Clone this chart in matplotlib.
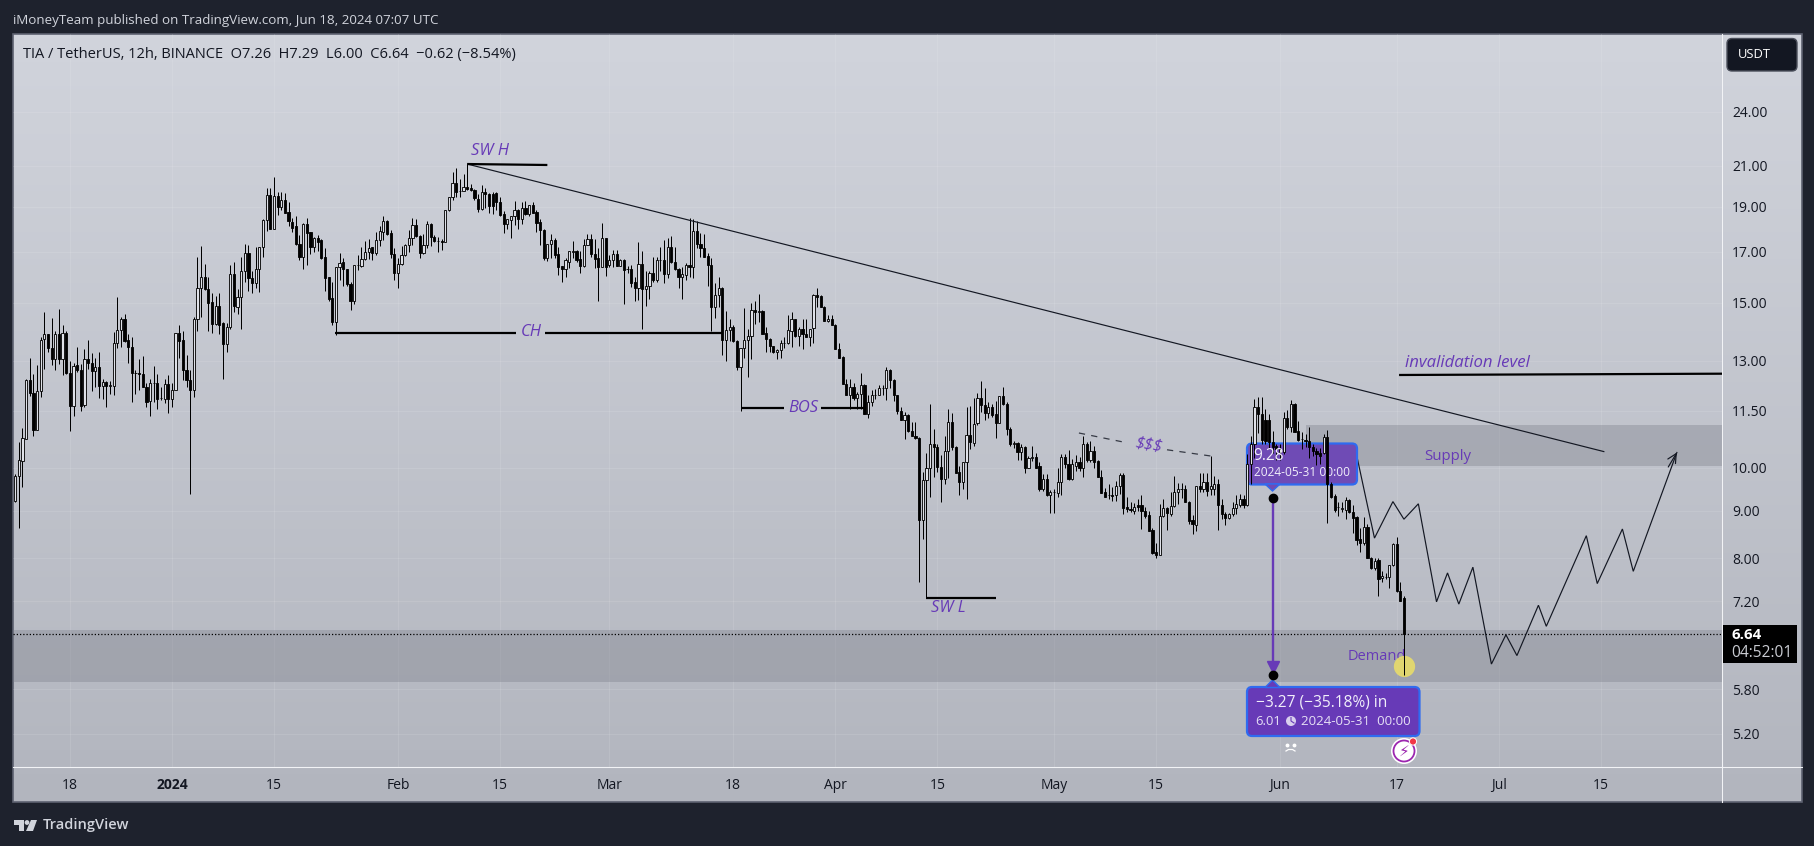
import numpy as np
import matplotlib
matplotlib.use("Agg")
import matplotlib.pyplot as plt
import matplotlib.dates as mdates
from matplotlib.colors import LinearSegmentedColormap
from matplotlib.patches import FancyBboxPatch, Polygon, Rectangle, Circle
from matplotlib.ticker import NullLocator
from matplotlib.transforms import Affine2D

# ---------- data (12h candles) ----------
opens = [
 9.21,9.79,10.17,10.74,12.4,12.03,10.98,12.07,13.72,13.9,
 13.42,13.05,13.9,13.07,13.93,12.63,11.65,12.88,12.73,11.68,
 13.07,12.93,12.68,12.82,12.23,12.35,12.23,12.23,13.58,14.03,
 14.4,13.7,13.45,12.62,12.63,12.58,12.2,11.77,12.33,12.32,
 11.87,11.85,12.27,11.83,12.1,13.93,13.7,12.73,12.42,12.1,
 14.4,15.55,16.0,15.5,15.03,14.25,14.9,14.27,13.55,14.15,
 16.1,14.85,15.2,16.22,16.95,15.93,15.75,16.3,17.2,18.4,
 19.55,18.0,19.5,19.0,19.3,18.75,18.3,18.1,17.35,16.8,
 18.2,17.85,17.2,17.6,17.5,16.8,15.97,15.17,14.3,16.4,
 16.6,16.3,15.72,15.05,16.45,16.42,16.7,17.0,17.2,16.95,
 17.5,17.85,18.35,17.8,16.9,16.15,16.5,16.85,17.3,17.6,
 18.18,17.67,16.95,17.3,18.2,17.65,17.45,17.45,17.42,18.85,
 19.45,20.15,19.75,19.75,19.95,19.9,19.8,19.35,18.87,19.7,
 19.6,19.6,19.65,19.2,18.65,18.2,18.4,18.55,18.85,18.45,
 18.95,18.65,19.1,18.77,18.3,17.95,16.75,17.33,17.5,16.9,
 16.43,16.3,16.6,17.0,17.03,16.7,16.43,17.3,17.55,16.93,
 16.75,16.4,17.58,16.45,16.65,16.93,16.43,16.68,16.3,16.3,
 15.78,15.55,16.52,15.5,15.65,16.15,15.87,16.65,16.65,16.1,
 17.2,16.6,16.3,15.97,16.05,16.47,16.37,17.9,17.33,17.17,
 16.83,16.47,14.85,15.3,15.55,13.68,14.02,14.12,13.65,12.82,
 13.43,13.7,13.82,14.75,14.67,14.7,13.92,13.73,13.48,13.28,
 13.35,13.6,13.6,14.0,14.4,13.82,14.05,13.88,13.8,14.1,
 15.3,15.25,14.85,14.35,14.42,14.22,13.4,13.13,12.27,11.97,
 12.2,11.87,12.0,12.25,11.42,11.75,11.95,11.95,12.15,12.15,
 12.7,12.42,11.95,11.5,11.25,11.37,10.95,10.82,10.77,8.79,
 9.71,10.0,10.6,10.52,10.02,9.73,10.42,11.2,10.53,9.9,
 9.66,10.15,10.85,10.63,11.15,11.88,11.68,11.45,11.6,11.42,
 11.15,11.93,11.7,11.0,10.6,10.62,10.4,10.52,10.0,10.25,
 10.27,10.03,9.5,9.73,9.35,9.42,9.4,9.65,10.27,10.1,
 9.72,10.05,10.15,10.0,10.6,10.2,10.43,10.17,9.78,9.42,
 9.35,9.35,9.35,9.57,9.83,9.08,9.03,9.0,9.13,9.13,
 9.0,8.9,8.57,8.13,8.07,8.87,9.05,8.92,9.1,9.43,
 9.48,9.5,9.2,8.8,8.68,9.55,9.5,9.65,9.5,9.5,
 9.6,9.13,8.93,8.83,8.93,9.05,9.13,9.27,9.12,10.1,
 10.6,11.6,11.42,11.25,11.25,10.65,10.55,10.4,10.4,11.3,
 11.05,11.7,10.95,10.72,10.7,10.67,10.53,10.43,10.38,10.38,
 10.78,9.6,9.33,9.07,9.04,9.02,9.23,8.97,8.85,8.4,
 8.3,8.65,8.0,7.82,7.97,7.62,7.65,7.65,7.87,8.28,7.38,7.26]
highs = [
 9.85,10.66,11.03,12.45,13.1,12.6,12.88,13.8,14.68,13.9,
 14.45,14.0,14.78,14.2,14.0,13.0,12.95,13.47,12.9,13.4,
 13.7,13.25,13.1,13.28,12.45,12.38,12.38,13.97,15.2,14.5,
 14.6,13.9,13.8,12.72,13.05,13.15,12.3,12.45,12.85,12.6,
 12.2,12.45,12.55,12.3,13.93,14.2,14.0,13.2,12.73,14.47,
 16.77,17.25,16.5,16.0,15.37,15.25,15.37,14.32,14.27,16.45,
 16.6,15.5,16.8,17.35,17.3,16.2,17.2,17.22,18.45,19.9,
 19.9,20.45,19.7,19.7,19.64,19.2,18.5,18.55,17.7,18.25,
 18.5,17.85,17.65,17.7,17.55,17.15,16.0,15.8,16.4,16.95,
 16.75,16.3,15.8,16.48,16.85,17.2,17.45,17.55,17.2,17.85,
 18.1,18.55,18.4,17.92,17.15,16.75,17.25,17.35,17.95,18.5,
 18.42,17.7,17.75,18.35,18.25,17.7,17.63,17.55,18.85,19.45,
 20.68,20.9,20.35,20.57,21.1,20.1,19.85,19.6,20.05,19.9,
 19.63,19.7,19.7,19.45,18.8,18.45,18.57,19.25,18.9,19.2,
 19.27,19.1,19.2,18.83,18.42,17.97,17.35,17.75,17.6,17.2,
 16.43,16.75,17.03,17.45,17.1,17.03,17.55,17.75,17.75,17.55,
 17.15,18.25,17.6,16.85,17.07,17.07,16.72,16.72,16.42,16.47,
 15.98,17.4,17.03,16.2,16.22,16.8,16.8,17.22,17.5,17.57,
 17.67,17.2,16.35,16.4,16.55,18.5,18.45,18.35,17.83,17.75,
 16.95,16.75,15.75,15.98,15.58,14.7,14.4,14.22,13.7,13.43,
 14.82,14.07,14.98,15.07,15.33,14.72,14.12,13.77,13.5,13.4,
 13.7,13.8,14.55,14.67,14.4,14.13,14.42,14.42,14.08,15.33,
 15.55,15.3,14.87,14.55,14.55,14.23,13.6,13.17,12.45,12.45,
 12.3,12.05,12.63,12.27,11.95,12.1,12.12,12.25,12.25,12.82,
 12.76,12.45,11.97,11.6,11.47,11.4,11.2,11.2,10.78,9.9,
 10.38,11.7,11.0,10.6,10.32,10.8,11.55,11.43,10.55,10.05,
 10.15,11.6,11.65,11.88,12.03,12.38,12.15,11.75,11.7,11.77,
 11.93,12.2,11.75,11.05,10.68,10.64,10.6,10.55,10.3,10.55,
 10.37,10.15,9.85,9.85,9.47,9.5,10.0,10.33,10.33,10.45,
 10.22,10.32,10.27,10.82,10.65,10.68,10.55,10.2,9.95,9.52,
 9.6,9.53,9.68,9.87,9.87,9.3,9.2,9.17,9.27,9.35,
 9.07,8.98,8.62,8.3,9.15,9.27,9.07,9.43,9.8,9.63,
 9.63,9.58,9.22,8.9,9.57,9.88,9.88,9.88,10.28,9.8,
 9.72,9.27,8.97,8.95,9.2,9.35,9.38,9.35,10.35,10.8,
 11.85,11.9,11.9,11.55,11.42,10.95,10.6,10.6,11.48,11.53,
 11.8,11.72,11.22,10.93,10.87,11.05,10.6,10.5,10.5,10.87,
 10.98,9.65,9.37,9.2,9.18,9.3,9.27,9.13,8.87,8.62,
 8.85,8.7,8.03,8.0,8.0,7.75,7.72,7.88,8.3,8.43,7.55,7.29]
lows = [
 9.2,8.62,9.53,10.72,11.92,10.8,10.98,11.9,12.75,13.3,
 12.87,12.7,12.9,12.55,12.6,10.95,11.35,12.65,11.5,11.6,
 12.75,12.07,12.2,11.87,11.85,11.6,12.0,11.95,13.43,13.45,
 13.62,12.95,11.75,12.0,12.1,12.2,11.6,11.35,11.75,11.55,
 11.82,11.72,11.45,11.62,12.1,13.1,12.42,12.2,9.38,11.9,
 14.0,14.5,15.47,14.0,13.92,14.2,13.88,12.45,13.3,14.05,
 14.67,14.6,14.05,15.8,15.45,15.35,15.55,15.4,16.8,17.9,
 18.0,18.0,18.6,18.83,18.7,18.1,17.85,17.3,16.65,16.3,
 16.45,16.93,17.0,17.05,16.7,15.45,15.07,14.2,13.85,15.87,
 15.65,15.65,14.75,14.95,16.25,16.4,16.68,16.72,16.65,16.85,
 17.25,17.5,17.7,16.75,15.85,15.55,16.45,16.83,17.0,17.28,
 17.65,16.75,16.9,17.15,17.25,17.4,17.0,17.1,17.42,18.82,
 19.3,19.45,19.45,19.75,19.8,19.77,19.3,18.75,18.85,18.95,
 18.7,18.68,18.85,18.55,17.8,18.0,17.6,18.15,18.0,18.2,
 18.63,18.55,18.7,17.87,17.3,16.65,16.62,16.75,16.75,16.05,
 15.8,15.98,16.33,16.75,16.6,16.13,16.4,17.27,16.8,16.33,
 15.08,16.38,16.03,16.4,16.4,16.42,16.42,14.97,16.15,15.58,
 15.08,15.1,14.07,14.9,15.15,15.8,15.78,16.2,15.73,15.95,
 16.55,16.25,15.55,15.15,15.87,16.0,15.95,17.17,16.8,16.78,
 15.65,14.0,14.45,14.85,13.18,13.0,13.65,13.63,12.73,11.5,
 13.1,12.5,13.07,14.25,14.3,13.9,13.3,13.3,13.25,13.05,
 13.1,13.43,13.57,13.47,13.8,13.48,13.4,13.8,13.5,13.6,
 14.85,14.83,14.33,14.3,14.2,13.4,13.1,12.27,11.95,11.55,
 11.82,11.55,11.55,11.42,11.3,11.65,11.85,11.95,11.97,11.8,
 12.15,11.77,11.42,11.25,10.73,10.92,10.8,10.72,7.55,8.4,
 7.26,9.3,9.78,9.9,9.2,9.6,9.75,10.45,9.88,9.34,
 9.5,9.25,10.47,10.55,11.1,11.47,11.25,11.3,11.33,10.77,
 11.15,11.68,10.83,10.55,10.5,10.2,10.2,9.87,10.0,10.17,
 9.98,9.45,9.45,9.33,8.95,8.95,9.3,9.35,10.0,9.7,
 9.7,9.92,9.92,9.77,10.13,10.15,10.0,9.77,9.4,9.3,
 9.25,9.22,9.22,9.37,8.93,8.97,8.97,8.93,9.0,8.6,
 8.83,8.55,8.09,8.0,8.07,8.85,8.58,8.87,9.08,9.15,
 9.28,9.18,8.7,8.5,8.55,9.43,9.43,9.33,9.35,9.35,
 8.58,8.82,8.68,8.82,8.88,8.93,9.07,9.05,9.1,9.6,
 10.25,10.9,10.6,10.6,10.5,10.38,10.2,10.2,10.33,11.0,
 10.93,10.92,10.67,10.47,10.52,10.25,10.3,10.07,10.1,10.35,
 8.72,9.28,8.97,8.88,8.96,8.82,8.95,8.52,8.27,8.13,
 8.27,8.0,7.79,7.77,7.29,7.55,7.6,7.43,7.85,7.37,7.2,6.0]
closes = [
 9.79,10.2,10.76,12.4,12.03,10.98,12.07,13.7,13.9,13.42,
 13.05,13.9,13.07,13.93,12.63,11.65,12.85,12.73,11.65,13.07,
 12.93,12.67,12.8,12.23,12.35,12.23,12.25,13.58,14.03,14.4,
 13.65,13.45,12.62,12.63,12.6,12.2,11.75,12.33,12.33,11.85,
 11.87,12.27,11.83,12.1,13.93,13.65,12.72,12.4,12.1,14.4,
 15.55,16.0,15.5,15.0,14.25,14.87,14.2,13.57,14.15,16.1,
 14.87,15.2,16.22,16.95,15.93,15.75,16.3,17.2,18.4,19.55,
 18.0,19.5,19.0,19.3,18.7,18.35,18.05,17.35,16.8,18.2,
 17.83,17.2,17.6,17.4,16.75,15.95,15.15,14.3,16.4,16.55,
 16.3,15.7,15.05,16.45,16.47,16.72,17.0,17.18,16.95,17.5,
 17.88,18.35,17.78,16.9,16.15,16.5,16.85,17.3,17.6,18.18,
 17.67,16.95,17.3,18.2,17.63,17.45,17.47,17.43,18.85,19.45,
 20.15,19.7,19.75,19.95,19.85,19.8,19.4,18.87,19.7,19.6,
 19.05,19.05,19.2,18.6,18.2,18.42,18.55,18.85,18.42,18.93,
 18.65,19.1,18.72,18.25,17.95,16.75,17.35,17.5,16.85,16.4,
 16.3,16.65,17.02,17.03,16.65,16.43,17.3,17.55,16.9,16.7,
 16.4,17.6,16.4,16.67,16.93,16.43,16.68,16.27,16.3,15.75,
 15.55,16.52,15.5,15.65,16.15,15.87,16.65,16.65,16.1,17.2,
 16.6,16.3,15.97,16.1,16.47,16.37,17.9,17.33,17.17,16.8,
 16.47,14.85,15.3,15.55,13.68,14.02,14.12,13.65,12.82,13.43,
 13.7,13.82,14.75,14.65,14.7,13.9,13.73,13.48,13.28,13.35,
 13.6,13.6,14.02,14.4,13.82,14.05,13.88,13.8,14.07,15.3,
 15.2,14.85,14.35,14.42,14.22,13.4,13.1,12.27,11.97,12.2,
 11.87,12.0,12.25,11.42,11.75,11.95,11.97,12.15,12.17,12.7,
 12.42,11.95,11.5,11.25,11.37,10.95,10.82,10.77,8.79,9.71,
 10.0,10.6,10.52,10.02,9.73,10.42,11.2,10.53,9.88,9.66,
 10.15,10.85,10.65,11.13,11.88,11.68,11.45,11.6,11.37,11.15,
 11.93,11.7,11.0,10.6,10.62,10.4,10.52,10.0,10.25,10.27,
 10.0,9.5,9.73,9.35,9.42,9.42,9.65,10.27,10.1,9.72,
 10.1,10.15,10.0,10.6,10.2,10.43,10.15,9.78,9.4,9.3,
 9.35,9.33,9.57,9.83,9.05,9.03,9.02,9.08,9.07,9.0,
 8.88,8.55,8.1,8.07,8.87,9.05,8.95,9.1,9.42,9.5,
 9.48,9.2,8.78,8.7,9.55,9.5,9.65,9.45,9.55,9.6,
 9.13,8.93,8.83,8.93,9.05,9.15,9.27,9.13,10.1,10.6,
 11.6,11.42,10.7,10.67,10.65,10.52,10.47,10.48,11.3,11.05,
 11.7,10.93,10.7,10.73,10.69,10.52,10.43,10.35,10.3,10.78,
 9.6,9.3,9.02,9.07,9.05,9.23,8.97,8.83,8.37,8.3,
 8.65,8.0,7.82,7.95,7.6,7.66,7.65,7.87,8.28,7.38,7.21,6.64]

last_bar = "2024-06-18"
price_ticks = [24, 21, 19, 17, 15, 13, 11.5, 10, 9, 8, 7.2, 5.8, 5.2]
date_ticks = ["2023-12-18","2024-01-01","2024-01-15","2024-02-01","2024-02-15","2024-03-01",
              "2024-03-18","2024-04-01","2024-04-15","2024-05-01","2024-05-15","2024-06-01",
              "2024-06-17","2024-07-01","2024-07-15"]
date_labels = ["18","2024","15","Feb","15","Mar","18","Apr","15","May","15","Jun","17","Jul","15"]

# drawings on the chart: dates and prices
trend_dates = ["2024-02-10 12:00","2024-07-15 12:00"];  trend_prices = [21.1, 10.4]
swh_dates = ["2024-02-10 12:00","2024-02-21 12:00"];    swh_prices = [21.1, 21.05]
ch_dates = ["2024-01-23 10:00","2024-02-17 04:00","2024-02-21 04:00","2024-03-16 10:00"]; ch_price = 13.93
bos_dates = ["2024-03-19 00:00","2024-03-24 22:00","2024-03-30 00:00","2024-04-05 00:00"]; bos_price = 11.58
swl_dates = ["2024-04-13 10:00","2024-04-23 00:00"];    swl_price = 7.26
liq_dates = ["2024-05-04 10:00","2024-05-10 19:00","2024-05-16 12:00","2024-05-22 22:00"]
liq_prices = [10.89, 10.64, 10.45, 10.28]
inval_dates = ["2024-06-17 08:00","2024-07-31 16:00"];  inval_prices = [12.56, 12.6]
supply_start = "2024-06-04 14:00"; supply_range = [10.05, 11.11]
demand_range = [5.90, 6.71]
last_close = 6.64
range_date = "2024-05-31"; range_from = 9.28; range_to = 6.01
mark_date = "2024-06-18"; mark_price = 6.14

path_days = [10.55,12.96,15.49,17.0,18.98,21.47,22.98,24.53,26.46,29.0,30.99,32.5,35.45,36.53,42.02,43.52,46.97,48.46,54.44]
path_prices = [10.28,8.41,9.20,8.81,9.15,7.19,7.72,7.15,7.83,6.17,6.63,6.30,7.13,6.77,8.46,7.52,8.60,7.75,10.38]

# ---------- page geometry ----------
W, H = 1815, 846
AX_L, AX_R, AX_T, AX_B = 13, 1722.5, 34, 767
PANEL_R, PANEL_B = 1802, 802
DARK = "#1e222d"; INK = "#131722"; PURPLE = "#673ab7"

plt.rcParams["font.family"] = ["Open Sans", "DejaVu Sans"]
fig = plt.figure(figsize=(W/100, H/100), dpi=100, facecolor=DARK)
px = Affine2D().scale(1, -1).translate(0, H)   # page pixels, y down

def num(s):
    return mdates.date2num(np.datetime64(s))

# background gradient
bg = fig.add_axes([0, 0, 1, 1], zorder=-1)
bg.set_xlim(0, W); bg.set_ylim(H, 0); bg.axis("off")
cmap = LinearSegmentedColormap.from_list("tv", ["#d1d4dc", "#b2b5be"])
bg.imshow(np.linspace(0, 1, 256)[:, None], extent=(13, PANEL_R, PANEL_B, 34), cmap=cmap, aspect="auto", zorder=0)
bg.add_patch(Rectangle((13, 34), PANEL_R-13, PANEL_B-34, fill=False, ec="#5d6170", lw=1.2, zorder=1))
bg.set_xlim(0, W); bg.set_ylim(H, 0)

# main chart
ax = fig.add_axes([AX_L/W, 1-AX_B/H, (AX_R-AX_L)/W, (AX_B-AX_T)/H], zorder=1)
ax.patch.set_visible(False)
ax.set_yscale("log")
ax.set_ylim(4.79, 29.05)
day0 = num("2024-06-01")
ax.set_xlim(day0-173.8, day0+60.7)

ax.yaxis.tick_right()
ax.set_yticks(price_ticks, [f"{p:.2f}" for p in price_ticks])
ax.yaxis.set_minor_locator(NullLocator())
ax.set_xticks([num(d) for d in date_ticks], date_labels)
ax.tick_params(axis="both", length=0, labelsize=10, colors=INK)
ax.tick_params(axis="y", pad=6.8)
ax.tick_params(axis="x", pad=8)
ax.get_xticklabels()[1].set_fontweight("bold")
ax.grid(True, color="white", alpha=0.10, lw=0.8, zorder=0)
ax.set_axisbelow(True)
for side in ("top", "left"):
    ax.spines[side].set_visible(False)
for side in ("right", "bottom"):
    ax.spines[side].set_color("#f2f3f6"); ax.spines[side].set_linewidth(0.75)
bg.plot([AX_R, AX_R], [AX_T, PANEL_B], color="#f2f3f6", lw=0.75, zorder=2)
bg.plot([AX_L, PANEL_R], [AX_B, AX_B], color="#f2f3f6", lw=0.75, zorder=2)

# zones
ax.axhspan(demand_range[0], demand_range[1], color="#787b86", alpha=0.35, lw=0, zorder=1)
ax.fill_between([num(supply_start), ax.get_xlim()[1]], supply_range[0], supply_range[1],
                color="#787b86", alpha=0.35, lw=0, zorder=1)
ax.axhline(last_close, color="black", lw=0.9, ls=(0, (1, 1.6)), zorder=2)

# projected path
ax.plot([day0+d for d in path_days], path_prices, color="#131722", lw=0.85, zorder=2, solid_joinstyle="miter")
ax.annotate("", xy=(day0+path_days[-1], path_prices[-1]), xytext=(day0+path_days[-2]+4.8, path_prices[-1]*0.965),
            arrowprops=dict(arrowstyle="->", color="#131722", lw=0.85, mutation_scale=16, shrinkA=0, shrinkB=0), zorder=2)

# first range label sits under the candles
def box(x0, y0, x1, y1, fc, z):
    ax.add_patch(FancyBboxPatch((x0+4, y0+4), x1-x0-8, y1-y0-8, boxstyle="round,pad=4,rounding_size=5",
                                fc=fc, ec="#2f6bf0", lw=1.6, transform=px, clip_on=False, zorder=z))

box(1247, 443.5, 1357, 484.5, "#6f4bb5", 3)
ax.add_patch(Polygon([(1265, 484), (1280, 484), (1272.5, 491)], closed=True, fc="#6f4bb5", ec="#2f6bf0", lw=1.0,
                     transform=px, clip_on=False, zorder=3))
ax.text(1253.5, 456, "9.28", transform=px, color="#f1effa", fontsize=11.2, va="center", ha="left", zorder=6.5)
ax.text(1253.5, 472, "2024-05-31 00:00", transform=px, color="#f1effa", fontsize=8.6, va="center", ha="left", zorder=3.5)

# yellow marker and Demand label under the last wick
ax.text(1376.5, 656, "Demand", transform=px, color=PURPLE, fontsize=10.5, va="center", ha="center", zorder=3)
ax.scatter([num(mark_date)], [mark_price], s=235, color="#e8dc6a", alpha=0.9, lw=0, zorder=4)

# candles
o, h, l, c = map(np.array, (opens, highs, lows, closes))
x = num(last_bar) - (len(o)-1-np.arange(len(o)))*0.5
up = c >= o
ax.vlines(x, l, h, color="black", lw=0.72, zorder=5)
ax.bar(x[up], np.abs(c-o)[up], bottom=np.minimum(o, c)[up], width=0.3, color="#dfe1e8", edgecolor="black", lw=0.62, zorder=6)
ax.bar(x[~up], np.abs(c-o)[~up], bottom=np.minimum(o, c)[~up], width=0.3, color="black", edgecolor="black", lw=0.62, zorder=6)

# analyst lines
def ln(dates, prices, **kw):
    ax.plot([num(d) for d in dates], prices, zorder=7, solid_capstyle="butt", **kw)

ln(trend_dates, trend_prices, color="#131722", lw=0.85)
ln(swh_dates, swh_prices, color="black", lw=1.6)
ln(ch_dates[:2], [ch_price]*2, color="black", lw=1.6)
ln(ch_dates[2:], [ch_price]*2, color="black", lw=1.6)
ln(bos_dates[:2], [bos_price]*2, color="black", lw=1.6)
ln(bos_dates[2:], [bos_price]*2, color="black", lw=1.6)
ln(swl_dates, [swl_price]*2, color="black", lw=1.6)
ln(inval_dates, inval_prices, color="black", lw=1.6)
ax.plot([num(d) for d in liq_dates[:2]], liq_prices[:2], color="#363a45", lw=0.9, ls=(0, (5, 5)), zorder=7)
ax.plot([num(d) for d in liq_dates[2:]], liq_prices[2:], color="#363a45", lw=0.9, ls=(0, (5, 5)), zorder=7)

def note(px_x, px_y, s, rot=0, size=11.9):
    ax.text(px_x, px_y, s, transform=px, color=PURPLE, fontsize=size, style="italic", ha="center", va="center",
            rotation=rot, zorder=8)

note(490, 151, "SW H")
note(531, 332, "CH")
note(803, 408, "BOS")
note(948, 608, "SW L")
note(1148.5, 444, "$$$", rot=-9)
note(1467, 363, "invalidation level", size=12.1)
ax.text(1448, 456, "Supply", transform=px, color=PURPLE, fontsize=10.8, ha="center", va="center", zorder=8)

# measuring tool
rx = num(range_date)
ax.plot([rx, rx], [range_from, range_to], color=PURPLE, lw=1.7, zorder=9)
ax.plot([rx], [6.13], marker="v", ms=8, color=PURPLE, ls="none", zorder=9)
ax.plot([rx, rx], [range_from, range_to], marker="o", ms=6, color="black", ls="none", zorder=10)

box(1247, 687, 1419.5, 736, PURPLE, 9)
ax.add_patch(Polygon([(1265, 687.5), (1280, 687.5), (1272.5, 680)], closed=True, fc=PURPLE, ec="#2f6bf0", lw=1.0,
                     transform=px, clip_on=False, zorder=9))
ax.text(1255.5, 702, "\u22123.27 (\u221235.18%) in", transform=px, color="#f1effa", fontsize=11.2, va="center", ha="left", zorder=10)
ax.text(1255, 721, "6.01", transform=px, color="#e6e0f5", fontsize=9.4, va="center", ha="left", zorder=10)
ax.text(1301, 721, "2024-05-31  00:00", transform=px, color="#e6e0f5", fontsize=9.6, va="center", ha="left", zorder=10)
ax.add_patch(Circle((1291, 721), 5, fc="#d9cfee", ec="none", transform=px, clip_on=False, zorder=10))
ax.plot([1291, 1291, 1294], [717.5, 721, 723], color=PURPLE, lw=0.8, transform=px, clip_on=False, zorder=11)

# icons under the last bars
ax.plot([1287, 1294], [745, 745], ls="none", marker="o", ms=1.8, color="white", transform=px, clip_on=False, zorder=8)
ax.plot([1286, 1288.5, 1292.5, 1295], [751, 749.5, 749.5, 751], color="white", lw=0.9, transform=px, clip_on=False, zorder=8)
ax.add_patch(Circle((1404, 751), 13, fc="white", ec="none", transform=px, clip_on=False, zorder=8))
ax.add_patch(Circle((1404, 751), 10.5, fc="white", ec="#9c27b0", lw=1.3, transform=px, clip_on=False, zorder=9))
ax.text(1404, 751.5, "\u26a1", family="DejaVu Sans", transform=px, color="#9c27b0", fontsize=11, ha="center", va="center", zorder=10)
ax.add_patch(Circle((1413, 741.5), 3.6, fc="#f23645", ec="white", lw=0.7, transform=px, clip_on=False, zorder=11))

# price-axis widgets
ax.add_patch(Rectangle((AX_R, 624.5), 1797-AX_R, 38, fc="black", ec="none", transform=px, clip_on=False, zorder=8))
ax.text(1731, 634.7, "6.64", transform=px, color="white", fontsize=10.8, fontweight="bold", va="center", ha="left", zorder=9)
ax.text(1731, 652.7, "04:52:01", transform=px, color="#c9cbd1", fontsize=11.2, va="center", ha="left", zorder=9)
ax.add_patch(FancyBboxPatch((1731, 42.5), 62, 24.5, boxstyle="round,pad=4,rounding_size=5", fc="#131722", ec="#4a4e5a", lw=1.0,
                            transform=px, clip_on=False, zorder=8))
ax.text(1738, 54.5, "USDT", transform=px, color="white", fontsize=9.4, va="center", ha="left", zorder=9)

# page header / footer
TXT = "#d1d4dc"
ax.text(13, 20, "iMoneyTeam published on TradingView.com, Jun 18, 2024 07:07 UTC", transform=px, color=TXT,
        fontsize=9.62, va="center", ha="left", clip_on=False)
ax.text(23, 54, "TIA / TetherUS, 12h, BINANCE  O7.26  H7.29  L6.00  C6.64  \u22120.62 (\u22128.54%)", transform=px, color=INK,
        fontsize=10.55, va="center", ha="left", zorder=9)
ax.add_patch(Polygon([(14, 820), (24, 820), (24, 831), (19, 831), (19, 825), (14, 825)], closed=True, fc=TXT, ec="none",
                     transform=px, clip_on=False))
ax.add_patch(Circle((27, 822.5), 2.4, fc=TXT, ec="none", transform=px, clip_on=False))
ax.add_patch(Polygon([(31, 820), (37, 820), (33, 831), (26, 831)], closed=True, fc=TXT, ec="none", transform=px, clip_on=False))
ax.text(43, 824.5, "TradingView", transform=px, color=TXT, fontsize=10.5, fontweight="semibold", va="center", ha="left", clip_on=False)

fig.savefig("out.png", dpi=100, facecolor=DARK)
